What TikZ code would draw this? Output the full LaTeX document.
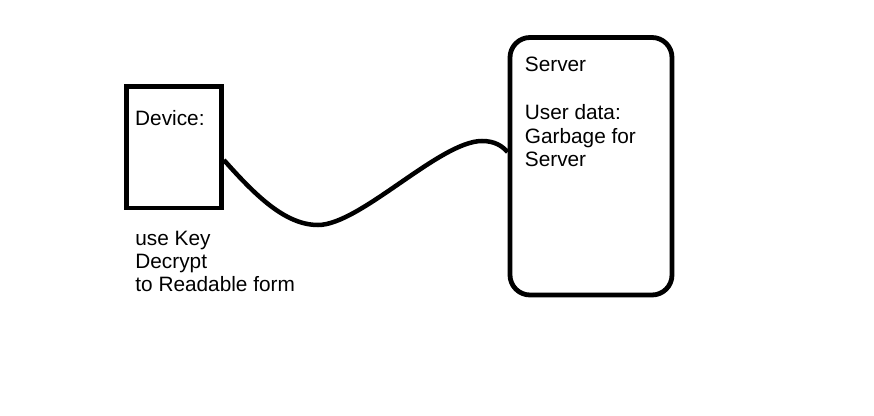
\documentclass[tikz,border=0pt]{standalone}
\usepackage{fontspec}
\setmainfont{Liberation Sans}
\begin{document}
\begin{tikzpicture}[x=1pt,y=-1pt,
  box/.style={draw=black,line width=4.8pt},
  lbl/.style={anchor=base west,inner sep=0pt,font=\fontsize{20.8}{23}\selectfont},
  wire/.style={draw=black,line width=4.5pt}]
\useasboundingbox (0,0) rectangle (874,415);
\node[box,minimum width=95pt,minimum height=121.5pt,inner sep=0pt] (dev) at (174,147.25) {};
\node[box,rounded corners=20pt,minimum width=162pt,minimum height=257.5pt,inner sep=0pt] (srv) at (591,166.25) {};
\node[lbl] (devt) at (135,125) {Device:};
\node[lbl] (k1) at (135.2,245) {use Key};
\node[lbl] (k2) at (135.2,268.3) {Decrypt};
\node[lbl] (k3) at (135.2,291.6) {to Readable form};
\node[lbl] (s1) at (524.7,71.7) {Server};
\node[lbl] (s2) at (524.7,119.5) {User data:};
\node[lbl] (s3) at (524.7,143) {Garbage for};
\node[lbl] (s4) at (524.7,166.5) {Server};
\coordinate (a) at (dev.east |- 0,160);
\coordinate (lo) at (318,225);
\coordinate (hi) at (482,141);
\coordinate (b) at (srv.west |- 0,152);
\draw[wire] (a) .. controls (255,195) and (285,225) .. (lo)
  .. controls (360,225) and (440,141) .. (hi)
  .. controls (495,141) and (502,146) .. (b);
\end{tikzpicture}
\end{document}
